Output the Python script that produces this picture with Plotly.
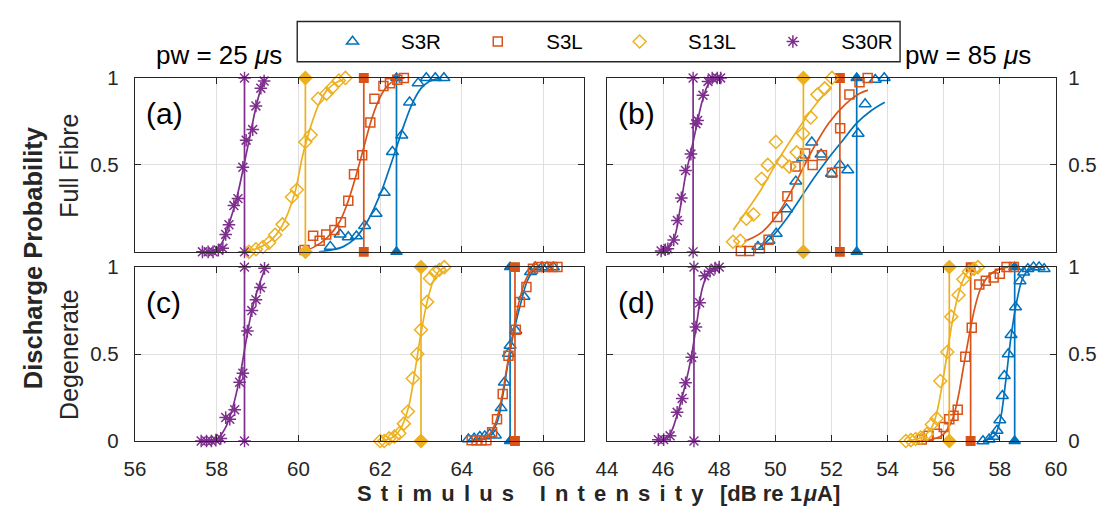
import plotly.graph_objects as go

# ---------------- data ----------------
SERIES = ["S3R", "S3L", "S13L", "S30R"]
COLORS = {"S3R": "#0072BD", "S3L": "#D95319", "S13L": "#EDB120", "S30R": "#7E2F8E"}
OPEN_SYM = {"S3R": "triangle-up-open", "S3L": "square-open", "S13L": "diamond-open", "S30R": "asterisk-open"}
FILL_SYM = {"S3R": "triangle-up", "S3L": "square", "S13L": "diamond", "S30R": "asterisk-open"}

X_TICKS_LEFT = [56, 58, 60, 62, 64, 66]
X_TICKS_RIGHT = [44, 46, 48, 50, 52, 54, 56, 58, 60]

# panel (a) full fibre, pw 25
A_S3R_X = [60.78, 61.02, 61.22, 61.42, 61.62, 61.9, 62.1, 62.3, 62.53, 62.72, 62.93, 63.13, 63.35, 63.56]
A_S3R_Y = [0.03, 0.1, 0.085, 0.09, 0.15, 0.22, 0.34, 0.575, 0.67, 0.86, 0.97, 1, 1, 1]
A_S3L_X = [60.15, 60.36, 60.52, 60.68, 60.88, 61.04, 61.22, 61.36, 61.56, 61.76, 61.86, 62.08, 62.24, 62.42, 62.58]
A_S3L_Y = [0.01, 0.092, 0.064, 0.1, 0.125, 0.17, 0.294, 0.446, 0.556, 0.743, 0.88, 0.954, 0.97, 0.99, 1.0]
A_S13L_X = [58.79, 58.96, 59.13, 59.28, 59.43, 59.61, 59.84, 59.96, 60.17, 60.3, 60.48, 60.69, 60.82, 60.99, 61.15]
A_S13L_Y = [0, 0.015, 0.028, 0.052, 0.098, 0.158, 0.315, 0.357, 0.632, 0.672, 0.88, 0.91, 0.943, 0.985, 1.0]
A_S30R_X = [57.65, 57.79, 57.91, 58.04, 58.15, 58.22, 58.3, 58.42, 58.52, 58.64, 58.72, 58.88, 58.96, 59.08, 59.16]
A_S30R_Y = [0, 0, 0, 0.01, 0.02, 0.1, 0.156, 0.266, 0.306, 0.486, 0.642, 0.703, 0.839, 0.941, 0.982]
A_THR = {"S3R": 62.4, "S3L": 61.6, "S13L": 60.17, "S30R": 58.68}
A_FIT_S3R_X = [60.5, 60.8, 61.1, 61.4, 61.7, 62.0, 62.2, 62.4, 62.6, 62.8, 63.0, 63.2, 63.5]
A_FIT_S3R_Y = [0.0, 0.01, 0.03, 0.08, 0.18, 0.33, 0.46, 0.6, 0.74, 0.86, 0.94, 0.98, 1.0]
A_FIT_S3L_X = [60.1, 60.4, 60.7, 61.0, 61.2, 61.4, 61.6, 61.8, 62.0, 62.2, 62.4, 62.6]
A_FIT_S3L_Y = [0.0, 0.03, 0.08, 0.17, 0.28, 0.43, 0.6, 0.77, 0.89, 0.96, 0.99, 1.0]
A_FIT_S13L_X = [58.7, 59.0, 59.3, 59.6, 59.9, 60.1, 60.3, 60.5, 60.7, 60.9, 61.1]
A_FIT_S13L_Y = [0.005, 0.02, 0.06, 0.15, 0.33, 0.55, 0.72, 0.85, 0.93, 0.97, 0.99]
A_FIT_S30R_X = [57.6, 57.9, 58.1, 58.3, 58.5, 58.65, 58.8, 58.95, 59.1, 59.2]
A_FIT_S30R_Y = [0.0, 0.005, 0.04, 0.16, 0.32, 0.48, 0.65, 0.82, 0.95, 0.99]

# panel (b) full fibre, pw 85
B_S3R_X = [49.38, 49.77, 50.03, 50.4, 50.73, 50.97, 51.3, 51.63, 52.0, 52.3, 52.58, 52.95, 53.2, 53.56, 53.88]
B_S3R_Y = [0.03, 0.065, 0.105, 0.245, 0.405, 0.54, 0.63, 0.56, 0.45, 0.5, 0.47, 0.68, 0.85, 0.99, 1.0]
B_S3L_X = [48.77, 49.07, 49.45, 49.76, 50.07, 50.43, 50.72, 51.06, 51.33, 51.66, 52.02, 52.31, 52.64, 53.0, 53.29]
B_S3L_Y = [0.005, 0.005, 0.02, 0.07, 0.2, 0.32, 0.49, 0.565, 0.5, 0.555, 0.455, 0.71, 0.905, 0.975, 1.0]
B_S13L_X = [48.49, 48.75, 48.97, 49.22, 49.51, 49.73, 50.02, 50.24, 50.5, 50.76, 50.99, 51.26, 51.5, 51.76, 52.02]
B_S13L_Y = [0.058, 0.064, 0.19, 0.215, 0.42, 0.5, 0.632, 0.52, 0.49, 0.572, 0.68, 0.773, 0.904, 0.94, 1.0]
B_S30R_X = [45.93, 46.08, 46.17, 46.38, 46.51, 46.65, 46.8, 46.99, 47.17, 47.23, 47.42, 47.6, 47.75, 47.93, 48.05]
B_S30R_Y = [0.005, 0.012, 0.018, 0.068, 0.18, 0.31, 0.468, 0.562, 0.737, 0.755, 0.9, 0.98, 1.0, 1.0, 1.0]
B_THR = {"S3R": 52.9, "S3L": 52.3, "S13L": 51.0, "S30R": 47.07}
B_FIT_S3R_X = [49.4, 49.9, 50.4, 50.9, 51.4, 51.9, 52.4, 52.9, 53.4, 53.9]
B_FIT_S3R_Y = [0.02, 0.09, 0.19, 0.31, 0.43, 0.54, 0.64, 0.74, 0.81, 0.86]
B_FIT_S3L_X = [48.9, 49.5, 50.1, 50.7, 51.3, 51.9, 52.5, 53.0, 53.3]
B_FIT_S3L_Y = [0.06, 0.11, 0.22, 0.39, 0.58, 0.74, 0.85, 0.91, 0.93]
B_FIT_S13L_X = [48.5, 49.0, 49.5, 50.0, 50.5, 51.0, 51.5, 52.0]
B_FIT_S13L_Y = [0.125, 0.24, 0.36, 0.5, 0.63, 0.75, 0.86, 0.95]
B_FIT_S30R_X = [45.9, 46.2, 46.4, 46.6, 46.8, 47.0, 47.2, 47.4, 47.6, 47.8, 48.0]
B_FIT_S30R_Y = [0.005, 0.03, 0.08, 0.24, 0.44, 0.58, 0.73, 0.87, 0.96, 0.99, 1.0]

# panel (c) degenerate, pw 25
C_S3R_X = [64.16, 64.3, 64.44, 64.56, 64.68, 64.82, 64.96, 65.04, 65.14, 65.18, 65.32, 65.52, 65.68, 65.8, 65.96, 66.08, 66.24]
C_S3R_Y = [0.011, 0.015, 0.024, 0.028, 0.039, 0.033, 0.19, 0.337, 0.503, 0.549, 0.635, 0.83, 0.972, 1.0, 1.0, 1.0, 1.0]
C_S3L_X = [64.24, 64.36, 64.48, 64.6, 64.74, 64.86, 65.0, 65.14, 65.32, 65.42, 65.58, 65.74, 65.88, 66.06, 66.22, 66.34]
C_S3L_Y = [0.005, 0.005, 0.005, 0.005, 0.05, 0.125, 0.27, 0.49, 0.64, 0.8, 0.885, 0.99, 1, 1, 1, 1]
C_S13L_X = [62.0, 62.1, 62.22, 62.35, 62.47, 62.58, 62.68, 62.8, 62.91, 63.0, 63.15, 63.22, 63.35, 63.45, 63.57]
C_S13L_Y = [0, 0, 0.015, 0.025, 0.045, 0.1, 0.17, 0.36, 0.5, 0.64, 0.8, 0.935, 0.97, 0.985, 1.0]
C_S30R_X = [57.62, 57.75, 57.87, 57.98, 58.1, 58.22, 58.32, 58.44, 58.56, 58.64, 58.75, 58.86, 58.96, 59.07, 59.17]
C_S30R_Y = [0, 0, 0, 0.005, 0.015, 0.135, 0.125, 0.18, 0.338, 0.39, 0.632, 0.75, 0.813, 0.883, 0.993]
C_THR = {"S3R": 65.18, "S3L": 65.3, "S13L": 63.0, "S30R": 58.68}
C_FIT_S3R_X = [64.2, 64.6, 64.85, 65.0, 65.15, 65.3, 65.45, 65.6, 65.75, 65.9]
C_FIT_S3R_Y = [0.0, 0.02, 0.1, 0.26, 0.48, 0.66, 0.8, 0.92, 0.98, 1.0]
C_FIT_S3L_X = [64.3, 64.6, 64.8, 64.95, 65.1, 65.25, 65.4, 65.55, 65.7, 65.85]
C_FIT_S3L_Y = [0.0, 0.02, 0.09, 0.22, 0.42, 0.62, 0.8, 0.92, 0.98, 1.0]
C_FIT_S13L_X = [62.0, 62.3, 62.5, 62.7, 62.85, 63.0, 63.15, 63.3, 63.45, 63.6]
C_FIT_S13L_Y = [0.0, 0.02, 0.07, 0.2, 0.4, 0.62, 0.8, 0.92, 0.98, 1.0]
C_FIT_S30R_X = [57.6, 58.0, 58.2, 58.4, 58.55, 58.7, 58.85, 59.0, 59.1, 59.2]
C_FIT_S30R_Y = [0.0, 0.01, 0.07, 0.2, 0.35, 0.55, 0.74, 0.87, 0.94, 1.0]

# panel (d) degenerate, pw 85
D_S3R_X = [57.4, 57.62, 57.78, 57.9, 58.0, 58.09, 58.16, 58.3, 58.4, 58.56, 58.72, 58.85, 59.0, 59.2, 59.4, 59.58]
D_S3R_Y = [0.0, 0.01, 0.025, 0.06, 0.12, 0.26, 0.375, 0.5, 0.61, 0.77, 0.92, 0.97, 0.99, 1.0, 1.0, 0.99]
D_S3L_X = [55.22, 55.46, 55.76, 56.0, 56.2, 56.35, 56.5, 56.77, 57.0, 57.27, 57.5, 57.78, 58.0, 58.24, 58.5]
D_S3L_Y = [0.009, 0.03, 0.042, 0.08, 0.125, 0.145, 0.18, 0.485, 0.652, 0.9, 0.922, 0.94, 0.962, 1.0, 1.0]
D_S13L_X = [54.65, 54.83, 55.0, 55.18, 55.4, 55.58, 55.75, 55.88, 56.13, 56.27, 56.53, 56.7, 56.9, 57.08, 57.22]
D_S13L_Y = [0, 0.005, 0.012, 0.02, 0.04, 0.095, 0.13, 0.345, 0.512, 0.715, 0.84, 0.93, 0.975, 0.99, 1.0]
D_S30R_X = [45.83, 46.02, 46.25, 46.5, 46.68, 46.8, 47.02, 47.17, 47.3, 47.48, 47.67, 47.85, 48.0]
D_S30R_Y = [0.008, 0.008, 0.03, 0.165, 0.245, 0.335, 0.482, 0.655, 0.795, 0.95, 0.976, 0.994, 1.0]
D_THR = {"S3R": 58.53, "S3L": 56.96, "S13L": 56.2, "S30R": 47.1}
D_FIT_S3R_X = [57.4, 57.8, 58.0, 58.2, 58.4, 58.6, 58.8, 59.0, 59.3, 59.6]
D_FIT_S3R_Y = [0.0, 0.03, 0.11, 0.33, 0.6, 0.8, 0.93, 0.98, 1.0, 1.0]
D_FIT_S3L_X = [55.0, 55.6, 56.0, 56.3, 56.5, 56.7, 56.9, 57.1, 57.3, 57.6, 58.0, 58.3]
D_FIT_S3L_Y = [0.0, 0.01, 0.04, 0.12, 0.24, 0.42, 0.6, 0.76, 0.87, 0.95, 0.99, 1.0]
D_FIT_S13L_X = [54.7, 55.2, 55.5, 55.7, 55.9, 56.1, 56.3, 56.5, 56.7, 56.9, 57.1]
D_FIT_S13L_Y = [0.0, 0.02, 0.06, 0.13, 0.28, 0.48, 0.68, 0.83, 0.93, 0.98, 1.0]
D_FIT_S30R_X = [45.8, 46.2, 46.5, 46.8, 47.0, 47.2, 47.4, 47.6, 47.8, 48.0]
D_FIT_S30R_Y = [0.005, 0.03, 0.15, 0.33, 0.48, 0.68, 0.88, 0.96, 0.99, 1.0]

PANELS = [
    ("a", "x", "y",
     {"S3R": (A_S3R_X, A_S3R_Y), "S3L": (A_S3L_X, A_S3L_Y), "S13L": (A_S13L_X, A_S13L_Y), "S30R": (A_S30R_X, A_S30R_Y)},
     {"S3R": (A_FIT_S3R_X, A_FIT_S3R_Y), "S3L": (A_FIT_S3L_X, A_FIT_S3L_Y), "S13L": (A_FIT_S13L_X, A_FIT_S13L_Y), "S30R": (A_FIT_S30R_X, A_FIT_S30R_Y)},
     A_THR),
    ("b", "x2", "y2",
     {"S3R": (B_S3R_X, B_S3R_Y), "S3L": (B_S3L_X, B_S3L_Y), "S13L": (B_S13L_X, B_S13L_Y), "S30R": (B_S30R_X, B_S30R_Y)},
     {"S3R": (B_FIT_S3R_X, B_FIT_S3R_Y), "S3L": (B_FIT_S3L_X, B_FIT_S3L_Y), "S13L": (B_FIT_S13L_X, B_FIT_S13L_Y), "S30R": (B_FIT_S30R_X, B_FIT_S30R_Y)},
     B_THR),
    ("c", "x3", "y3",
     {"S3R": (C_S3R_X, C_S3R_Y), "S3L": (C_S3L_X, C_S3L_Y), "S13L": (C_S13L_X, C_S13L_Y), "S30R": (C_S30R_X, C_S30R_Y)},
     {"S3R": (C_FIT_S3R_X, C_FIT_S3R_Y), "S3L": (C_FIT_S3L_X, C_FIT_S3L_Y), "S13L": (C_FIT_S13L_X, C_FIT_S13L_Y), "S30R": (C_FIT_S30R_X, C_FIT_S30R_Y)},
     C_THR),
    ("d", "x4", "y4",
     {"S3R": (D_S3R_X, D_S3R_Y), "S3L": (D_S3L_X, D_S3L_Y), "S13L": (D_S13L_X, D_S13L_Y), "S30R": (D_S30R_X, D_S30R_Y)},
     {"S3R": (D_FIT_S3R_X, D_FIT_S3R_Y), "S3L": (D_FIT_S3L_X, D_FIT_S3L_Y), "S13L": (D_FIT_S13L_X, D_FIT_S13L_Y), "S30R": (D_FIT_S30R_X, D_FIT_S30R_Y)},
     D_THR),
]

# ---------------- figure ----------------
W, H = 1113, 517
FONT = "Liberation Sans, Arial, sans-serif"
AX = "#262626"
GRID = "#DFDFDF"
NB = "\u00a0"

fig = go.Figure()
OPEN_SIZE = {"S3R": 10.5, "S3L": 9, "S13L": 10, "S30R": 10.5}
FILL_SIZE = {"S3R": 10, "S3L": 8.5, "S13L": 10, "S30R": 10.5}

for letter, xa, ya, data, fits, thr in PANELS:
    for s in SERIES:
        c = COLORS[s]
        fx, fy = fits[s]
        fig.add_trace(go.Scatter(x=fx, y=fy, xaxis=xa, yaxis=ya, mode="lines",
                                 line=dict(color=c, width=1.7, shape="spline"),
                                 showlegend=False, hoverinfo="skip", cliponaxis=False))
        t = thr[s]
        fig.add_trace(go.Scatter(x=[t, t], y=[0, 1], xaxis=xa, yaxis=ya, mode="lines+markers",
                                 line=dict(color=c, width=1.7),
                                 marker=dict(symbol=FILL_SYM[s], size=FILL_SIZE[s], color=c,
                                             line=dict(color=c, width=1.4)),
                                 showlegend=False, cliponaxis=False))
        dx, dy = data[s]
        trail = "" if s == SERIES[-1] else NB * 5 + "\u2006"
        fig.add_trace(go.Scatter(x=dx, y=dy, xaxis=xa, yaxis=ya, mode="markers",
                                 name=NB * 5 + s + trail,
                                 legendgroup=s, showlegend=(letter == "a"),
                                 marker=dict(symbol=OPEN_SYM[s], size=OPEN_SIZE[s], color=c,
                                             line=dict(color=c, width=1.5)),
                                 cliponaxis=False))

def px_x(p):
    return p / W

def px_y(p):
    return 1 - p / H

LEFT = [px_x(126.5), px_x(585)]
RIGHT = [px_x(608), px_x(1066)]
TOP = [px_y(251), px_y(69)]
BOT = [px_y(449), px_y(267)]

axis_common = dict(showline=True, linecolor=AX, linewidth=1.4, mirror="ticks", ticks="inside",
                   ticklen=6, tickwidth=1.3, tickcolor=AX, showgrid=True, gridcolor=GRID,
                   gridwidth=1, zeroline=False, tickfont=dict(family=FONT, size=20.5, color="#262626"))

fig.update_layout(
    width=W, height=H, margin=dict(l=0, r=0, t=0, b=0),
    paper_bgcolor="white", plot_bgcolor="white",
    font=dict(family=FONT, size=20, color="black"),
    xaxis=dict(domain=LEFT, range=[56, 67], tickvals=X_TICKS_LEFT, showticklabels=False, anchor="y", **axis_common),
    xaxis2=dict(domain=RIGHT, range=[44, 60], tickvals=X_TICKS_RIGHT, showticklabels=False, anchor="y2", **axis_common),
    xaxis3=dict(domain=LEFT, range=[56, 67], tickvals=X_TICKS_LEFT, anchor="y3", ticklabelstandoff=9, **axis_common),
    xaxis4=dict(domain=RIGHT, range=[44, 60], tickvals=X_TICKS_RIGHT, anchor="y4", ticklabelstandoff=9, **axis_common),
    yaxis=dict(domain=TOP, range=[0, 1], tickvals=[0.5, 1], ticktext=["0.5", "1"], anchor="x", ticklabelstandoff=11, **axis_common),
    yaxis2=dict(domain=TOP, range=[0, 1], tickvals=[0.5, 1], ticktext=["0.5", "1"], side="right", anchor="x2", ticklabelstandoff=7, **axis_common),
    yaxis3=dict(domain=BOT, range=[0, 1], tickvals=[0, 0.5, 1], ticktext=["0", "0.5", "1"], anchor="x3", ticklabelstandoff=11, **axis_common),
    yaxis4=dict(domain=BOT, range=[0, 1], tickvals=[0, 0.5, 1], ticktext=["0", "0.5", "1"], side="right", anchor="x4", ticklabelstandoff=7, **axis_common),
    legend=dict(orientation="h", x=px_x(328), y=px_y(31), xanchor="left", yanchor="middle",
                borderwidth=0, bgcolor="rgba(0,0,0,0)",
                font=dict(family=FONT, size=20.5, color="black"),
                itemwidth=30, itemclick=False, itemdoubleclick=False),
    showlegend=True,
    shapes=[dict(type="rect", xref="paper", yref="paper", x0=px_x(292), x1=px_x(907),
                 y0=px_y(52), y1=px_y(10), line=dict(color=AX, width=1.4),
                 fillcolor="white", layer="below")],
)

ann = []
for letter, xa, ya, *_ in PANELS:
    ann.append(dict(text="(%s)" % letter, xref=xa + " domain", yref=ya + " domain",
                    x=0.02, y=0.795, xanchor="left", yanchor="middle", showarrow=False,
                    font=dict(family=FONT, size=30, color="black")))

LG = "\u2005\u2006"          # letter gap
XTITLE = (LG.join("Stimulus") + "\u2003\u2006" + LG.join("Intensity") + "\u2002\u2005" +
          "[dB re 1\u200a<i>μ</i>A]")
ann += [
    dict(text="pw = 25 <i>μ</i>s", xref="paper", yref="paper", x=px_x(212), y=px_y(45),
         xanchor="center", yanchor="middle",
         showarrow=False, font=dict(family=FONT, size=26, color="black")),
    dict(text="pw = 85 <i>μ</i>s", xref="paper", yref="paper", x=px_x(976), y=px_y(45),
         xanchor="center", yanchor="middle",
         showarrow=False, font=dict(family=FONT, size=26, color="black")),
    dict(text="<b>Discharge Probability</b>", xref="paper", yref="paper", x=px_x(22), y=px_y(257),
         xanchor="center", yanchor="middle",
         textangle=-90, showarrow=False, font=dict(family=FONT, size=25.5, color="#262626")),
    dict(text="Full Fibre", xref="paper", yref="paper", x=px_x(59), y=px_y(161),
         xanchor="center", yanchor="middle",
         textangle=-90, showarrow=False, font=dict(family=FONT, size=25, color="#262626")),
    dict(text="Degenerate", xref="paper", yref="paper", x=px_x(59), y=px_y(358),
         xanchor="center", yanchor="middle",
         textangle=-90, showarrow=False, font=dict(family=FONT, size=25, color="#262626")),
    dict(text="<b>" + XTITLE + "</b>",
         xref="paper", yref="paper", x=px_x(599), y=px_y(504), showarrow=False,
         xanchor="center", yanchor="middle",
         font=dict(family=FONT, size=22, color="#262626")),
]
fig.update_layout(annotations=ann)

fig.write_html("out.html")
